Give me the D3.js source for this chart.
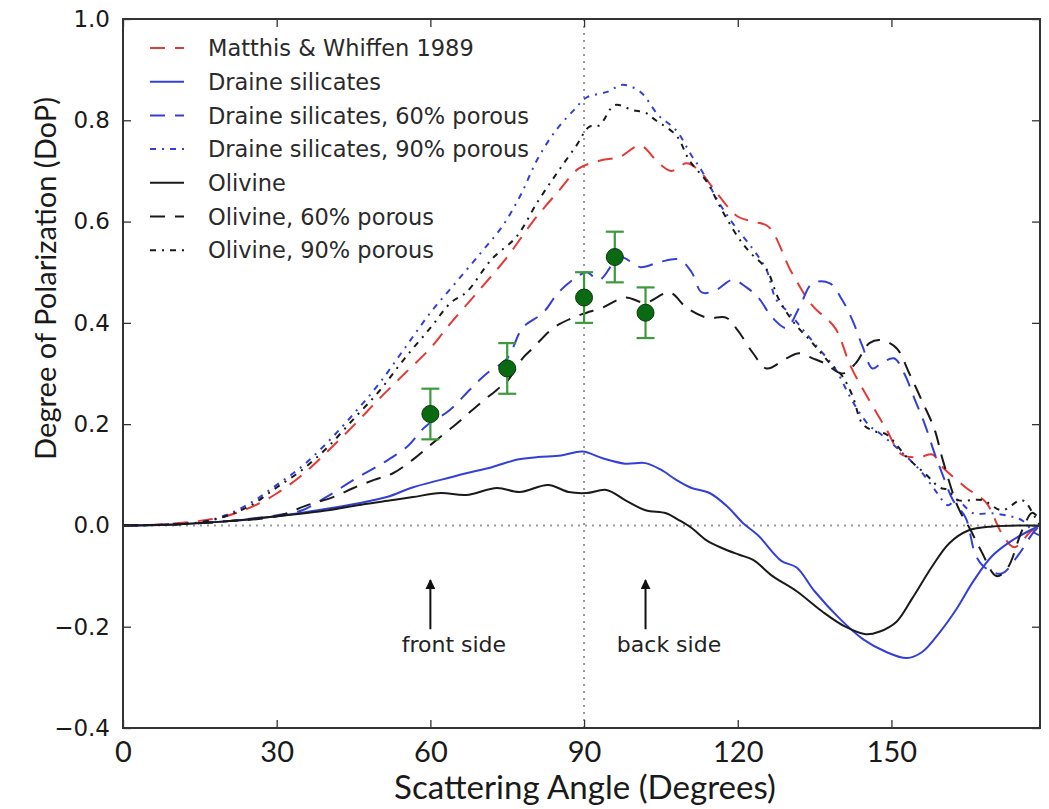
<!DOCTYPE html>
<html>
<head>
<meta charset="utf-8">
<script src="https://cdn.jsdelivr.net/npm/d3@7"></script>
<style>
  body { margin: 0; background: #fff; }
  svg { display: block; }
</style>
</head>
<body>
<div id="chart"></div>
<script>
// curves: [scattering angle, degree of polarization]
const matthis = [[0,0],[5,0.001],[10,0.004],[15,0.009],[20,0.018],[25,0.036],[30,0.063],[35,0.10],[40,0.147],[45,0.197],[50,0.25],[55,0.30],[60,0.35],[64,0.40],[70,0.47],[75,0.53],[80,0.60],[85,0.66],[89,0.705],[93,0.72],[97,0.728],[101,0.75],[104.5,0.716],[107,0.70],[110,0.715],[112.5,0.70],[116,0.655],[120,0.61],[123,0.60],[126,0.59],[130.5,0.50],[134.5,0.435],[139,0.39],[142,0.315],[145.5,0.25],[149,0.19],[152,0.14],[155.5,0.135],[158,0.14],[160,0.115],[164.5,0.075],[168.5,0.045],[171.5,-0.015],[174,-0.043],[177.5,-0.01],[179,-0.01]];
const draine = [[0,0],[10,0.002],[20,0.008],[30,0.018],[38,0.03],[46,0.044],[51.5,0.056],[56.5,0.075],[62,0.09],[67,0.103],[72,0.115],[77,0.13],[81,0.135],[85.5,0.138],[89.7,0.146],[93.5,0.133],[98,0.122],[102,0.123],[105,0.11],[108,0.09],[111,0.074],[114.5,0.064],[118,0.037],[121,0.005],[124,-0.02],[128.5,-0.07],[131.5,-0.083],[135,-0.13],[140,-0.185],[144.5,-0.225],[149,-0.25],[153,-0.262],[156,-0.25],[159.5,-0.21],[162.7,-0.165],[166,-0.11],[169.7,-0.06],[173.5,-0.03],[177,-0.01],[179,0]];
const draine60 = [[0,0],[10,0.002],[20,0.008],[30,0.02],[35,0.03],[40,0.058],[45,0.09],[50.7,0.123],[55.4,0.155],[59,0.195],[63.8,0.228],[67.7,0.268],[71,0.30],[75,0.33],[78,0.39],[82,0.42],[85,0.46],[88.5,0.49],[90.5,0.50],[93,0.485],[97,0.53],[101,0.51],[104.7,0.52],[108.6,0.525],[111,0.50],[113,0.46],[115.8,0.465],[119,0.485],[121.7,0.47],[124,0.45],[126.8,0.41],[129.5,0.39],[132,0.43],[134.6,0.478],[138,0.478],[140.4,0.445],[142.4,0.405],[144.3,0.355],[146.3,0.31],[148,0.32],[150.5,0.33],[152.5,0.30],[154.5,0.25],[156.5,0.20],[158.5,0.14],[160,0.10],[162,0.05],[164.5,0.015],[166.5,-0.06],[168.5,-0.085],[171.5,-0.095],[175,-0.055],[177.6,-0.015],[179,0]];
const draine90 = [[0,0],[10,0.002],[15,0.006],[20,0.02],[25,0.045],[30,0.08],[35,0.117],[40,0.165],[45,0.22],[50,0.28],[55,0.35],[60,0.42],[65,0.48],[70,0.54],[74,0.59],[77.5,0.65],[81,0.725],[84.5,0.78],[88,0.82],[90.5,0.845],[94.5,0.856],[97.5,0.87],[101,0.856],[104.5,0.81],[108,0.78],[111,0.73],[113,0.70],[116,0.643],[119,0.597],[123,0.545],[125.6,0.505],[127.5,0.446],[130,0.42],[132.6,0.388],[135.4,0.354],[139,0.31],[141.8,0.256],[143.7,0.224],[145.7,0.197],[147.6,0.183],[151.5,0.149],[155.5,0.11],[158.8,0.066],[161,0.04],[162.7,0.05],[166,0.024],[169.7,0.024],[173.6,0.017],[175.5,0.01],[178,-0.015],[179,-0.02]];
const olivine = [[0,0],[10,0.002],[20,0.008],[30,0.018],[40,0.03],[47,0.042],[52.7,0.05],[56.6,0.056],[62,0.064],[67,0.06],[73,0.074],[77.4,0.066],[83,0.08],[87,0.066],[90.5,0.064],[94.4,0.07],[98,0.05],[102,0.03],[106,0.024],[108.6,0.01],[111,-0.005],[114,-0.03],[117,-0.045],[120.3,-0.058],[123,-0.068],[126.8,-0.1],[131.5,-0.13],[136.5,-0.17],[141,-0.2],[145,-0.215],[147.6,-0.21],[151,-0.19],[154,-0.145],[158,-0.08],[161.3,-0.035],[165,-0.01],[169.7,-0.002],[179,0]];
const olivine60 = [[0,0],[10,0.002],[20,0.008],[30,0.018],[36,0.04],[41,0.056],[45,0.074],[49,0.09],[52.7,0.103],[56.6,0.13],[60.5,0.163],[65,0.20],[69,0.235],[73,0.268],[75,0.285],[78,0.33],[80,0.35],[84,0.39],[87.8,0.41],[90.5,0.42],[93.6,0.43],[98,0.45],[102,0.44],[106.7,0.46],[110,0.43],[114,0.41],[117.8,0.41],[120,0.385],[123,0.34],[125.6,0.31],[129.5,0.33],[132,0.34],[134.6,0.33],[137,0.32],[140.4,0.30],[143,0.32],[145.7,0.36],[148,0.366],[151,0.35],[153.5,0.30],[156,0.245],[158.4,0.19],[160,0.13],[163,0.036],[165.5,-0.01],[167.5,-0.05],[170.5,-0.1],[172.6,-0.085],[175.5,-0.01],[177.5,0.025],[179,0.01]];
const olivine90 = [[0,0],[10,0.002],[15,0.006],[20,0.018],[25,0.04],[30,0.075],[35,0.11],[40,0.155],[45,0.21],[50,0.265],[55,0.33],[60,0.39],[64,0.44],[67,0.46],[72,0.526],[76.8,0.57],[81,0.64],[85,0.70],[88.5,0.75],[91,0.787],[93,0.79],[96,0.83],[99.5,0.82],[102,0.815],[104,0.80],[108,0.77],[110.6,0.72],[114,0.678],[116.5,0.63],[120,0.57],[122.3,0.54],[125.6,0.506],[128,0.447],[131,0.40],[134.6,0.36],[138,0.32],[140.4,0.295],[142.4,0.256],[144.4,0.20],[147,0.185],[149,0.18],[153,0.135],[156.8,0.10],[159.4,0.075],[161,0.07],[163,0.05],[167.7,0.05],[171.6,0.03],[175.5,0.05],[178,0.017],[179,0]];

// observations: angle, DoP, error
const obsAngle = [60, 75, 90, 96, 102];
const obsDoP   = [0.22, 0.31, 0.45, 0.53, 0.42];
const obsErr   = [0.05, 0.05, 0.05, 0.05, 0.05];

const xTicks = [0, 30, 60, 90, 120, 150];
const yTicks = [-0.4, -0.2, 0.0, 0.2, 0.4, 0.6, 0.8, 1.0];

const notes = [
  {angle: 60, label: "front side"},
  {angle: 102, label: "back side"}
];

const series = [
  {name: "Matthis & Whiffen 1989", data: matthis, color: "#e23a36", dash: "15,10"},
  {name: "Draine silicates", data: draine, color: "#3340d8", dash: null},
  {name: "Draine silicates, 60% porous", data: draine60, color: "#3340d8", dash: "15,10"},
  {name: "Draine silicates, 90% porous", data: draine90, color: "#3340d8", dash: "6,6,2,6"},
  {name: "Olivine", data: olivine, color: "#1a1a1a", dash: null},
  {name: "Olivine, 60% porous", data: olivine60, color: "#1a1a1a", dash: "15,10"},
  {name: "Olivine, 90% porous", data: olivine90, color: "#1a1a1a", dash: "6,6,2,6"}
];

const svgWidth = 1049, svgHeight = 809;
const plotL = 123, plotR = 1040, plotT = 19, plotB = 728;

const svg = d3.select('#chart').append('svg')
  .attr('width', svgWidth)
  .attr('height', svgHeight);

const x = d3.scaleLinear().domain([0, 179]).range([plotL, plotR]);
const y = d3.scaleLinear().domain([-0.4, 1.0]).range([plotB, plotT]);

const defs = svg.append('defs');
defs.append('clipPath').attr('id', 'clip')
  .append('rect')
  .attr('x', plotL).attr('y', plotT)
  .attr('width', plotR - plotL).attr('height', plotB - plotT);

// reference lines
svg.append('line')
  .attr('x1', x(90)).attr('x2', x(90))
  .attr('y1', plotT).attr('y2', plotB)
  .attr('stroke', '#9a9a9a').attr('stroke-width', 2).attr('stroke-dasharray', '2,5');
svg.append('line')
  .attr('x1', plotL).attr('x2', plotR)
  .attr('y1', y(0)).attr('y2', y(0))
  .attr('stroke', '#9a9a9a').attr('stroke-width', 2).attr('stroke-dasharray', '2,5');

const line = d3.line()
  .x(d => x(d[0]))
  .y(d => y(d[1]))
  .curve(d3.curveCatmullRom.alpha(0.5));

const plot = svg.append('g').attr('clip-path', 'url(#clip)');

plot.selectAll('path.curve')
  .data(series)
  .enter()
  .append('path')
  .attr('class', 'curve')
  .attr('d', d => line(d.data))
  .attr('fill', 'none')
  .attr('stroke', d => d.color)
  .attr('stroke-width', 2)
  .attr('stroke-dasharray', d => d.dash);

// observations with error bars
const obs = obsAngle.map((a, i) => ({a: a, v: obsDoP[i], e: obsErr[i]}));
const obsG = svg.append('g').selectAll('g').data(obs).enter().append('g');
obsG.append('line')
  .attr('x1', d => x(d.a)).attr('x2', d => x(d.a))
  .attr('y1', d => y(d.v - d.e)).attr('y2', d => y(d.v + d.e))
  .attr('stroke', '#3c9a3c').attr('stroke-width', 2.2);
[-1, 1].forEach(s => {
  obsG.append('line')
    .attr('x1', d => x(d.a) - 9).attr('x2', d => x(d.a) + 9)
    .attr('y1', d => y(d.v + s * d.e)).attr('y2', d => y(d.v + s * d.e))
    .attr('stroke', '#3c9a3c').attr('stroke-width', 2.2);
});
obsG.append('circle')
  .attr('cx', d => x(d.a)).attr('cy', d => y(d.v))
  .attr('r', 8.5)
  .attr('fill', '#0a6a12')
  .attr('stroke', '#0b3a0b').attr('stroke-width', 1);

// front / back side arrows
defs.append('marker')
  .attr('id', 'head')
  .attr('viewBox', '0 0 10 10')
  .attr('refX', 9).attr('refY', 5)
  .attr('markerWidth', 5).attr('markerHeight', 5)
  .attr('markerUnits', 'strokeWidth')
  .attr('orient', 'auto')
  .append('path').attr('d', 'M0,0 L10,5 L0,10 z').attr('fill', '#111');

const noteG = svg.append('g').selectAll('g').data(notes).enter().append('g');
noteG.append('line')
  .attr('x1', d => x(d.angle)).attr('x2', d => x(d.angle))
  .attr('y1', y(-0.205)).attr('y2', y(-0.108))
  .attr('stroke', '#111').attr('stroke-width', 2)
  .attr('marker-end', 'url(#head)');
noteG.append('text')
  .attr('x', d => x(d.angle - 5.6))
  .attr('y', y(-0.25))
  .attr('font-family', 'DejaVu Sans')
  .attr('font-size', 22)
  .attr('fill', '#222')
  .text(d => d.label);

// axes, ticks pointing inward on all sides
const xAxis = svg.append('g')
  .attr('transform', `translate(0,${plotB})`)
  .call(d3.axisBottom(x).tickValues(xTicks).tickSize(-8).tickPadding(13).tickFormat(d3.format('d')));
xAxis.selectAll('text').attr('font-family', 'Lato').attr('font-size', 29).attr('fill', '#1a1a1a');

svg.append('g')
  .attr('transform', `translate(0,${plotT})`)
  .call(d3.axisTop(x).tickValues(xTicks).tickSize(-8).tickFormat(''));

const yAxis = svg.append('g')
  .attr('transform', `translate(${plotL},0)`)
  .call(d3.axisLeft(y).tickValues(yTicks).tickSize(-8).tickPadding(13).tickFormat(d3.format('.1f')));
yAxis.selectAll('text').attr('font-family', 'DejaVu Sans').attr('font-size', 23).attr('fill', '#1a1a1a');

svg.append('g')
  .attr('transform', `translate(${plotR},0)`)
  .call(d3.axisRight(y).tickValues(yTicks).tickSize(-8).tickFormat(''));

svg.selectAll('.domain').remove();
svg.selectAll('.tick line').attr('stroke', '#333').attr('stroke-width', 1.3);

svg.append('rect')
  .attr('x', plotL).attr('y', plotT)
  .attr('width', plotR - plotL).attr('height', plotB - plotT)
  .attr('fill', 'none').attr('stroke', '#333').attr('stroke-width', 2);

// axis titles, sized to the reference's width
function fitText(sel, target) {
  const w = sel.node().getComputedTextLength();
  const fs = +sel.attr('font-size');
  sel.attr('font-size', fs * target / w);
}
const xTitle = svg.append('text')
  .attr('x', (393 + 777) / 2).attr('y', 799)
  .attr('text-anchor', 'middle')
  .attr('font-family', 'Lato').attr('font-size', 29).attr('fill', '#1a1a1a')
  .text('Scattering Angle (Degrees)');
fitText(xTitle, 382);

const yTitle = svg.append('text')
  .attr('transform', `translate(56,${(97 + 460) / 2}) rotate(-90)`)
  .attr('text-anchor', 'middle')
  .attr('font-family', 'Lato').attr('font-size', 27).attr('fill', '#1a1a1a')
  .text('Degree of Polarization (DoP)');
fitText(yTitle, 363);

// legend
const legend = svg.append('g').attr('id', 'legend');
const rows = legend.selectAll('g').data(series).enter().append('g')
  .attr('transform', (d, i) => `translate(150, ${48 + i * 33.7})`);
rows.append('line')
  .attr('x1', 0).attr('x2', 34)
  .attr('stroke', d => d.color).attr('stroke-width', 2)
  .attr('stroke-dasharray', d => d.dash);
rows.append('text')
  .attr('x', 58).attr('dy', '0.36em')
  .attr('font-family', 'DejaVu Sans').attr('font-size', 22.5).attr('fill', '#2a2a2a')
  .text(d => d.name);
</script>
</body>
</html>
